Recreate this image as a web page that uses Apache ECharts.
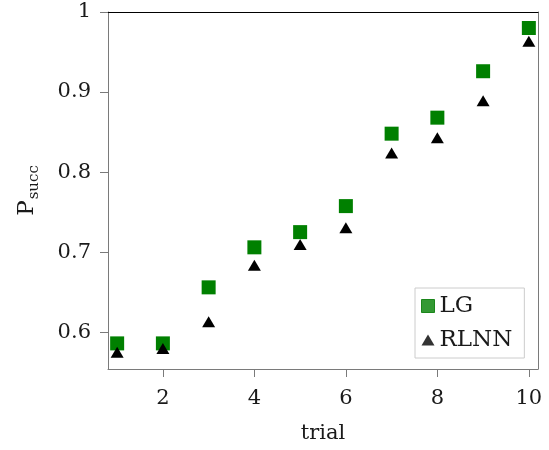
<!DOCTYPE html>
<html>
<head>
<meta charset="utf-8">
<script src="https://cdn.jsdelivr.net/npm/echarts@6/dist/echarts.min.js"></script>
<style>html,body{margin:0;padding:0;background:#fff}#c{width:549px;height:450px}</style>
</head>
<body>
<div id="c"></div>
<script>
var trials = [1, 2, 3, 4, 5, 6, 7, 8, 9, 10];
var lgValues = [0.586, 0.586, 0.656, 0.706, 0.725, 0.7575, 0.848, 0.868, 0.926, 0.98];
var rlnnValues = [0.575, 0.5795, 0.613, 0.6835, 0.7095, 0.7305, 0.824, 0.843, 0.889, 0.9635];
var xTicks = [2, 4, 6, 8, 10];
var yTicks = [0.6, 0.7, 0.8, 0.9, 1];

var FONT = 'DejaVu Serif';
var TXT = '#1a1a1a';
var AX = '#7a7a7a';

function pairs(xs, ys) { return xs.map(function (x, i) { return [x, ys[i]]; }); }

var chart = echarts.init(document.getElementById('c'), null, {renderer: 'canvas'});
chart.setOption({
  animation: false,
  backgroundColor: '#fff',
  grid: {left: 108, right: 11, top: 12, bottom: 81, containLabel: false},
  xAxis: [{
    type: 'value', min: 0.8, max: 10.2, position: 'bottom',
    name: 'trial', nameLocation: 'middle', nameGap: 54,
    nameTextStyle: {fontFamily: FONT, fontSize: 21, color: TXT},
    splitLine: {show: false},
    axisLine: {show: true, onZero: false, lineStyle: {color: AX, width: 1}},
    axisTick: {show: true, inside: false, length: 8, customValues: xTicks, lineStyle: {color: AX}},
    axisLabel: {customValues: xTicks, margin: 19, fontFamily: FONT, fontSize: 21, color: TXT}
  }, {
    type: 'value', min: 0.8, max: 10.2, position: 'top',
    splitLine: {show: false},
    axisLine: {show: true, onZero: false, lineStyle: {color: '#000', width: 1}},
    axisTick: {show: false}, axisLabel: {show: false}
  }],
  yAxis: [{
    type: 'value', min: 0.554, max: 1, position: 'left',
    name: '{p|P}{s|succ}', nameLocation: 'middle', nameGap: 66, nameRotate: 90,
    nameTextStyle: {
      fontFamily: FONT, color: TXT,
      rich: {
        p: {fontFamily: FONT, fontSize: 23, color: TXT, lineHeight: 30, verticalAlign: 'middle'},
        s: {fontFamily: FONT, fontSize: 15, color: TXT, lineHeight: 30, verticalAlign: 'bottom', padding: [0, 0, 0, 1]}
      }
    },
    splitLine: {show: false},
    axisLine: {show: true, onZero: false, lineStyle: {color: AX, width: 1}},
    axisTick: {show: true, inside: false, length: 8, customValues: yTicks, lineStyle: {color: AX}},
    axisLabel: {customValues: yTicks, margin: 17, fontFamily: FONT, fontSize: 21, color: TXT,
      formatter: function (v) { return String(Math.round(v * 10) / 10); }}
  }, {
    type: 'value', min: 0.554, max: 1, position: 'right',
    splitLine: {show: false},
    axisLine: {show: true, onZero: false, lineStyle: {color: AX, width: 1}},
    axisTick: {show: false}, axisLabel: {show: false}
  }],
  legend: {
    orient: 'vertical', left: 415, top: 288,
    padding: [6, 12, 6, 6], itemGap: 10,
    itemWidth: 13, itemHeight: 13,
    borderColor: '#cccccc', borderWidth: 1, backgroundColor: '#fff',
    textStyle: {fontFamily: FONT, fontSize: 23, color: TXT, lineHeight: 24},
    data: [
      {name: 'LG', icon: 'rect', itemStyle: {color: '#339933', borderColor: '#1b861b', borderWidth: 1}},
      {name: 'RLNN', icon: 'path://M0,10 L6,0 L12,10 Z', itemStyle: {color: '#333333', borderWidth: 0}}
    ]
  },
  series: [{
    name: 'LG', type: 'scatter', symbol: 'rect', symbolSize: 14,
    itemStyle: {color: '#008000', opacity: 1},
    data: pairs(trials, lgValues), z: 2
  }, {
    name: 'RLNN', type: 'scatter', symbol: 'triangle', symbolSize: [13, 11],
    itemStyle: {color: '#000000', opacity: 1},
    data: pairs(trials, rlnnValues), z: 3
  }]
});
</script>
</body>
</html>
